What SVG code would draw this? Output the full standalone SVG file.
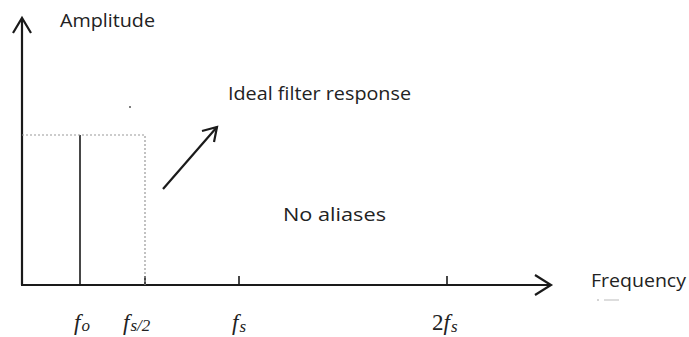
<svg xmlns="http://www.w3.org/2000/svg" width="689" height="337" viewBox="0 0 689 337">
<style>
.ax{stroke:#1a1a1a;stroke-width:2.2;fill:none}
.ln{stroke:#1a1a1a;stroke-width:1.6;fill:none}
.dot{stroke:#999;stroke-width:1.2;stroke-dasharray:2 2;fill:none}
.lbl{font-family:"Open Sans","Liberation Sans",sans-serif;font-size:18px;fill:#222;lengthAdjust:spacingAndGlyphs}
.m{font-family:"Liberation Serif",serif;font-style:italic;font-size:23px;fill:#222}
</style>
<rect width="689" height="337" fill="#fff"/>
<g id="connectors">
<line class="ax" x1="22" y1="285" x2="22" y2="19"/>
<polyline class="ax" points="13,33 22,18 31,33"/>
<line class="ax" x1="21" y1="285" x2="551" y2="285"/>
<polyline class="ax" points="535,275 551,285 535,295"/>
<line class="ln" x1="80" y1="135" x2="80" y2="285"/>
<line class="ln" x1="145" y1="276" x2="145" y2="285"/>
<line class="ln" x1="239" y1="276" x2="239" y2="285"/>
<line class="ln" x1="447" y1="276" x2="447" y2="285"/>
<polyline class="dot" points="22,135 145,135 145,285"/>
<line class="ax" stroke-width="2" x1="163" y1="189" x2="217" y2="127"/>
<polyline class="ax" stroke-width="2" points="202,131 217,127 214,142"/>
</g>
<g id="labels">
<text class="lbl" x="60" y="27" textLength="95" lengthAdjust="spacingAndGlyphs">Amplitude</text>
<text class="lbl" x="228" y="100" textLength="183" lengthAdjust="spacingAndGlyphs">Ideal filter response</text>
<text class="lbl" x="283" y="221" textLength="103" lengthAdjust="spacingAndGlyphs">No aliases</text>
<text class="lbl" x="591" y="287" textLength="95" lengthAdjust="spacingAndGlyphs">Frequency</text>
<text class="m" x="74" y="330">f<tspan font-size="17" dx="1" dy="1">o</tspan></text>
<text class="m" x="123" y="330">f<tspan font-size="17" dx="1" dy="1">s/2</tspan></text>
<text class="m" x="232" y="330">f<tspan font-size="17" dx="1" dy="2">s</tspan></text>
<text class="m" x="432" y="330"><tspan font-style="normal">2</tspan>f<tspan font-size="17" dx="1" dy="2">s</tspan></text>
<circle cx="130" cy="107" r="1" fill="#555"/>
<line x1="597" y1="300" x2="599" y2="300" stroke="#aaa" stroke-width="1"/>
<line x1="604" y1="300" x2="619" y2="300" stroke="#bbb" stroke-width="1"/>
</g>
</svg>
